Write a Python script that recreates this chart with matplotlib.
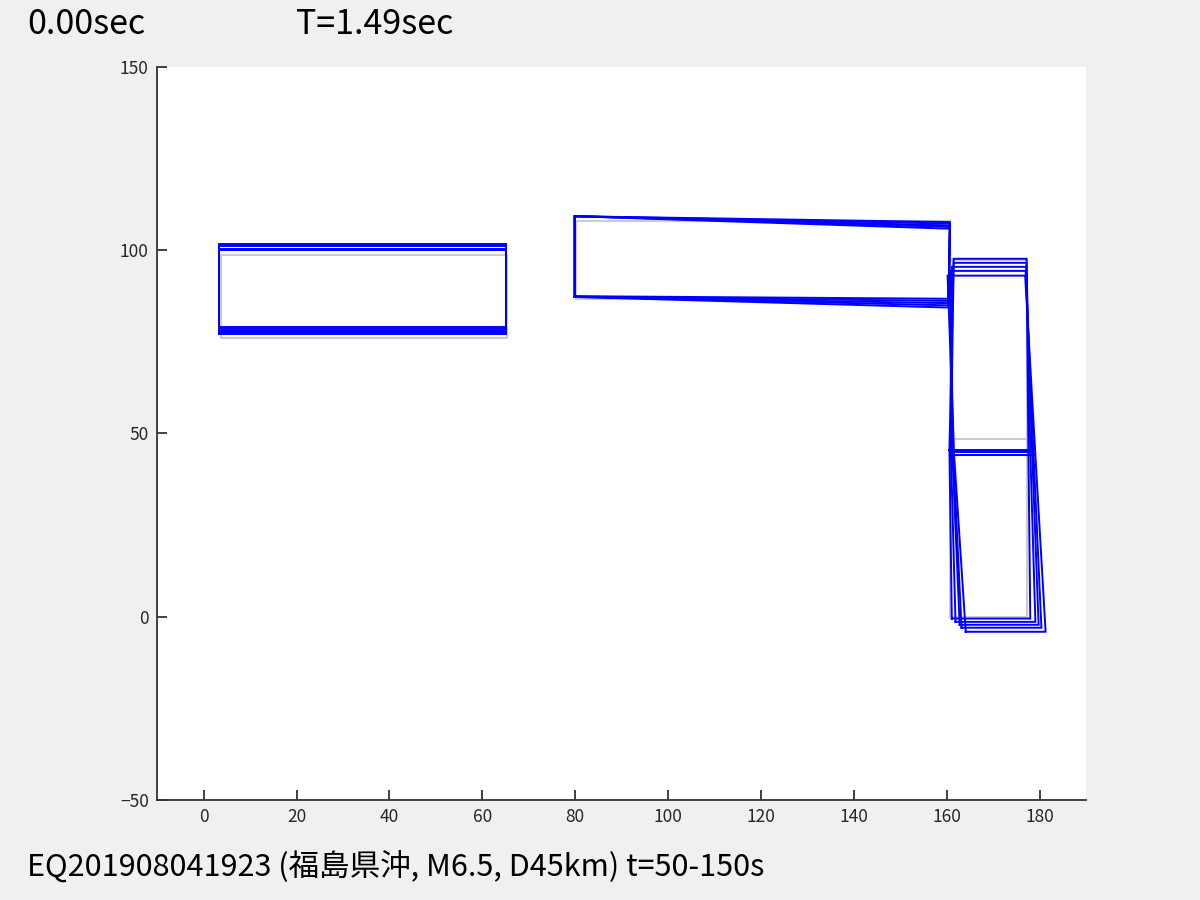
import matplotlib
matplotlib.use("Agg")
import matplotlib.pyplot as plt

plt.rcParams['font.family'] = ['Noto Sans CJK JP', 'DejaVu Sans']

# Undeformed node coordinates
node_x = [3.8, 65.4, 65.4, 3.8,
          80.2, 160.8, 160.8, 80.2,
          160.8, 177.2, 177.2, 160.8, 160.8, 177.2]
node_y = [76.0, 76.0, 98.5, 98.5,
          86.6, 86.6, 108.0, 108.0,
          0.0, 0.0, 48.5, 48.5, 97.3, 97.3]

# Elements as node paths
elements = [
    [0, 1, 2, 3, 0],            # left block
    [4, 5, 6, 7, 4],            # middle block
    [8, 9, 10, 13, 12, 11, 8],  # right column outline
    [11, 10],                   # right column mid beam
]

# Displacements for each deformed frame (per node)
dx_frames = [
    [-0.4, -0.4, -0.4, -0.4, -0.3, -0.4, -0.1, -0.3, 0.3, 0.8, 0.4, -0.2, 0.7, 0.0],
    [-0.4, -0.4, -0.4, -0.4, -0.3, -0.4, -0.1, -0.3, 1.1, 1.9, 0.8, 0.1, 0.7, 0.0],
    [-0.5, -0.4, -0.4, -0.5, -0.3, -0.4, -0.1, -0.3, 2.0, 2.6, 1.2, 0.4, 0.3, -0.1],
    [-0.5, -0.4, -0.4, -0.5, -0.3, -0.4, -0.1, -0.3, 2.4, 3.2, 1.5, 0.6, -0.1, -0.2],
    [-0.6, -0.4, -0.4, -0.6, -0.3, -0.4, -0.1, -0.3, 3.3, 4.1, 1.9, 0.8, -0.6, -0.3],
]
dy_frames = [
    [2.9, 2.9, 3.2, 3.2, 0.8, 0.1, -0.4, 1.2, -0.5, -0.5, -3.1, -3.1, 0.3, 0.3],
    [2.5, 2.5, 2.7, 2.7, 0.7, -0.5, -0.8, 1.2, -1.4, -1.4, -3.3, -3.3, -0.8, -0.8],
    [1.8, 1.8, 1.8, 1.8, 0.6, -1.1, -1.3, 1.2, -2.2, -2.2, -3.5, -3.5, -1.9, -1.9],
    [1.5, 1.5, 1.6, 1.6, 0.7, -1.7, -1.7, 1.2, -3.0, -3.0, -4.3, -4.3, -3.0, -3.0],
    [1.1, 1.1, 1.4, 1.4, 0.6, -2.3, -2.2, 1.2, -4.1, -4.1, -4.5, -4.5, -4.3, -4.3],
]

x_ticks = [0, 20, 40, 60, 80, 100, 120, 140, 160, 180]
y_ticks = [-50, 0, 50, 100, 150]

time_label = "0.00sec"
period_label = "T=1.49sec"
caption = "EQ201908041923 (福島県沖, M6.5, D45km) t=50-150s"

fig = plt.figure(figsize=(12, 9), dpi=100, facecolor='#f0f0f0')
ax = fig.add_axes([0.131, 0.111, 0.774, 0.815])
ax.set_facecolor('white')

for path in elements:
    ax.plot([node_x[i] for i in path], [node_y[i] for i in path],
            color='#cccccc', lw=1.5, solid_joinstyle='miter')

for dxs, dys in zip(dx_frames, dy_frames):
    for path in elements:
        ax.plot([node_x[i] + dxs[i] for i in path],
                [node_y[i] + dys[i] for i in path],
                color='#0000ff', lw=1.4, solid_joinstyle='miter')

ax.set_xlim(-10, 190)
ax.set_ylim(-50, 150)
ax.set_xticks(x_ticks)
ax.set_yticks(y_ticks)
for s in ['top', 'right']:
    ax.spines[s].set_visible(False)
for s in ['left', 'bottom']:
    ax.spines[s].set_color('#333333')
    ax.spines[s].set_linewidth(1.3)
ax.tick_params(direction='in', length=7, width=1.3, color='#333333',
               labelcolor='#262626', labelsize=12.5)
ax.tick_params(axis='x', pad=6)
ax.tick_params(axis='y', pad=6)

fig.text(27 / 1200, 1 - 24 / 900, time_label, fontsize=24.5, va='center', ha='left')
fig.text(296 / 1200, 1 - 24 / 900, period_label, fontsize=24.5, va='center', ha='left')
fig.text(27 / 1200, 1 - 866 / 900, caption, fontsize=22, va='center', ha='left')

fig.savefig('out.png', dpi=100, facecolor=fig.get_facecolor())
